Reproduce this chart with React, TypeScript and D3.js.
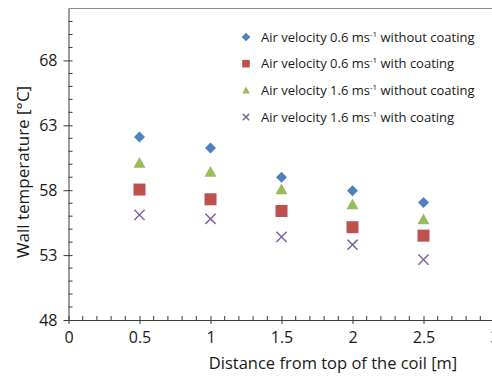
import React, { useEffect, useRef } from 'react';
import * as d3 from 'd3';

// distances along the coil [m]
const distances = [0.5, 1, 1.5, 2, 2.5];

// wall temperatures [°C]
const v06NoCoating = [62.1, 61.25, 59.0, 57.95, 57.05];
const v06Coating = [58.05, 57.3, 56.4, 55.15, 54.5];
const v16NoCoating = [60.1, 59.4, 58.05, 56.9, 55.75];
const v16Coating = [56.1, 55.8, 54.4, 53.8, 52.65];

const seriesNames = [
  'Air velocity 0.6 ms',
  'Air velocity 0.6 ms',
  'Air velocity 1.6 ms',
  'Air velocity 1.6 ms'
];
const seriesTails = ['without coating', 'with coating', 'without coating', 'with coating'];

const xTicks = [0, 0.5, 1, 1.5, 2, 2.5, 3];
const yTicks = [48, 53, 58, 63, 68];

const FONT = '"Open Sans", "Noto Sans", sans-serif';

const App = () => {
  const svgRef = useRef(null);

  useEffect(() => {
    const width = 492;
    const svg = d3.select(svgRef.current);
    svg.selectAll('*').remove();

    const x = d3.scaleLinear().domain([0, 3]).range([68.5, 494.5]);
    const y = d3.scaleLinear().domain([48, 72]).range([320, 8.5]);

    const series = [
      { values: v06NoCoating, color: '#4f81bd', shape: 'diamond' },
      { values: v06Coating, color: '#c0504d', shape: 'square' },
      { values: v16NoCoating, color: '#9bbb59', shape: 'triangle' },
      { values: v16Coating, color: '#8064a2', shape: 'cross' }
    ];

    // top border of the plot area
    svg.append('line')
      .attr('x1', x(0)).attr('x2', width)
      .attr('y1', y(72)).attr('y2', y(72))
      .attr('stroke', '#8c8c8c').attr('stroke-width', 1);

    const axisColor = '#3a3a3a';

    // minor ticks (inside)
    const minorX = d3.range(1, 30).map(i => i / 10).filter(v => Math.abs(v * 2 - Math.round(v * 2)) > 1e-6);
    svg.append('g').selectAll('line').data(minorX).enter().append('line')
      .attr('x1', d => x(d)).attr('x2', d => x(d))
      .attr('y1', y(48)).attr('y2', y(48) - 4)
      .attr('stroke', axisColor).attr('stroke-width', 1);

    const minorY = d3.range(49, 72).filter(v => (v - 48) % 5 !== 0);
    svg.append('g').selectAll('line').data(minorY).enter().append('line')
      .attr('x1', x(0)).attr('x2', x(0) + 4)
      .attr('y1', d => y(d)).attr('y2', d => y(d))
      .attr('stroke', axisColor).attr('stroke-width', 1);

    // x axis
    const xAxis = svg.append('g')
      .attr('transform', `translate(0, ${y(48)})`)
      .call(d3.axisBottom(x).tickValues(xTicks).tickSizeInner(4).tickSizeOuter(0).tickPadding(8).tickFormat(d3.format('')));
    xAxis.select('.domain').attr('stroke', axisColor);
    xAxis.selectAll('.tick line').attr('y1', -4).attr('stroke', axisColor);
    xAxis.selectAll('.tick text')
      .attr('font-family', FONT).attr('font-size', 16).attr('fill', '#1a1a1a');

    // y axis
    const yAxis = svg.append('g')
      .attr('transform', `translate(${x(0)}, 0)`)
      .call(d3.axisLeft(y).tickValues(yTicks).tickSizeInner(5).tickSizeOuter(0).tickPadding(6));
    yAxis.select('.domain').attr('stroke', axisColor);
    yAxis.selectAll('.tick line').attr('x1', 4).attr('x2', -5).attr('stroke', axisColor);
    yAxis.selectAll('.tick text')
      .attr('font-family', FONT).attr('font-size', 16).attr('fill', '#1a1a1a');

    // axis titles
    svg.append('text')
      .attr('x', 333).attr('y', 369)
      .attr('text-anchor', 'middle')
      .attr('font-family', FONT).attr('font-size', 16.5).attr('fill', '#1a1a1a')
      .text('Distance from top of the coil [m]');

    svg.append('text')
      .attr('transform', 'translate(29, 172) rotate(-90)')
      .attr('text-anchor', 'middle')
      .attr('font-family', FONT).attr('font-size', 17).attr('fill', '#1a1a1a')
      .text('Wall temperature [°C]');

    // marker drawing helper
    const drawMarker = (g, shape, color, cx, cy, s) => {
      if (shape === 'diamond') {
        g.append('path')
          .attr('d', `M${cx},${cy - s}L${cx + s},${cy}L${cx},${cy + s}L${cx - s},${cy}Z`)
          .attr('fill', color);
      } else if (shape === 'square') {
        g.append('rect')
          .attr('x', cx - s).attr('y', cy - s).attr('width', 2 * s).attr('height', 2 * s)
          .attr('fill', color);
      } else if (shape === 'triangle') {
        g.append('path')
          .attr('d', `M${cx},${cy - s}L${cx + s},${cy + s * 0.8}L${cx - s},${cy + s * 0.8}Z`)
          .attr('fill', color);
      } else {
        const r = s * 0.85;
        g.append('path')
          .attr('d', `M${cx - r},${cy - r}L${cx + r},${cy + r}M${cx - r},${cy + r}L${cx + r},${cy - r}`)
          .attr('stroke', color).attr('stroke-width', 1.5).attr('fill', 'none');
      }
    };

    const sizes = { diamond: 5.5, square: 6, triangle: 6, cross: 6 };

    // points
    const pts = svg.append('g');
    series.forEach(sr => {
      sr.values.forEach((v, i) => {
        drawMarker(pts, sr.shape, sr.color, x(distances[i]), y(v), sizes[sr.shape]);
      });
    });

    // legend
    const legend = svg.append('g');
    series.forEach((sr, i) => {
      const ly = 37 + i * 26.7;
      drawMarker(legend, sr.shape, sr.color, 246, ly, sr.shape === 'diamond' ? 4.3 : 3.8);
      const t = legend.append('text')
        .attr('x', 261).attr('y', ly + 4.5)
        .attr('font-family', FONT).attr('font-size', 13).attr('fill', '#1a1a1a');
      t.append('tspan').text(seriesNames[i]);
      t.append('tspan').attr('dy', -5).attr('font-size', 8).text('-1');
      t.append('tspan').attr('dy', 5).text(' ' + seriesTails[i]);
    });
  }, []);

  return (
    <svg ref={svgRef} width={492} height={376}
      style={{ position: 'absolute', left: 0, top: 0, background: '#fff' }}></svg>
  );
};

export default App;
